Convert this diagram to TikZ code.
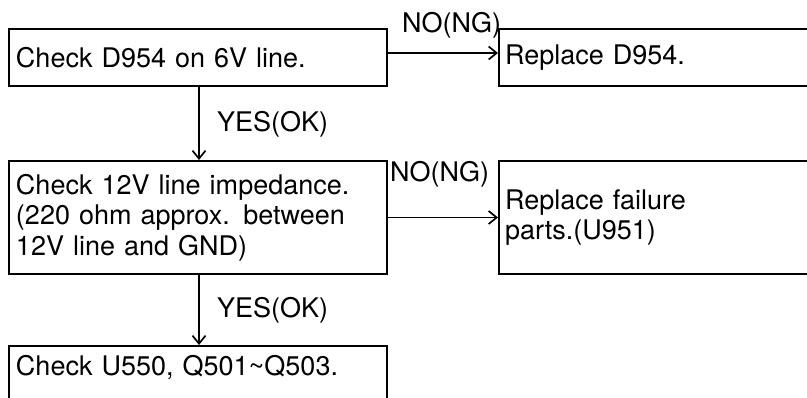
\documentclass[tikz,border=0pt]{standalone}
\usepackage{fontspec}
\setmainfont{TeX Gyre Heros}
\usetikzlibrary{arrows.meta}
\begin{document}
\begin{tikzpicture}[x=1pt,y=-1pt,
  box/.style={draw, line width=2pt, anchor=north west, inner xsep=7pt, inner ysep=0pt, align=left, font=\fontsize{27}{30.5}\selectfont},
  lbl/.style={anchor=base west, inner sep=0pt, font=\fontsize{27}{30.5}\selectfont},
  arr/.style={line width=1.7pt, -{Straight Barb[length=8pt,width=13pt,line width=1.7pt]}}]
\useasboundingbox (0,0) rectangle (807,398);
\clip (0,0) rectangle (807,398);
\node[box, text width=364pt, minimum height=57pt] (b1) at (8,28) {Check D954 on 6V line.};
\node[box, inner xsep=6pt, text width=320pt, minimum height=57pt] (b2) at (498,28) {Replace D954.};
\node[box, text width=364pt, minimum height=113pt] (b3) at (8,160) {Check 12V line impedance.\\(220 ohm approx. between\\12V line and GND)};
\node[box, inner xsep=6pt, text width=320pt, minimum height=113pt] (b4) at (498,160) {Replace failure\\parts.(U951)};
\node[box, text width=364pt, inner ysep=9pt, text height=21pt, text depth=55pt] (b5) at (8,345) {Check U550, Q501\textasciitilde Q503.};
\coordinate (y1) at (0,53);
\coordinate (xv) at (199,0);
\draw[arr] (b1.east |- y1) -- (b2.west |- y1);
\draw[arr] (b3.east) -- (b4.west);
\draw[arr] (b1.south -| xv) -- (b3.north -| xv);
\draw[arr] (b3.south -| xv) -- (b5.north -| xv);
\node[lbl] (n1) at (402,33) {NO(NG)};
\node[lbl] (n2) at (390,182) {NO(NG)};
\node[lbl] (y1l) at (217,132) {YES(OK)};
\node[lbl] (y2l) at (217,318) {YES(OK)};
\end{tikzpicture}
\end{document}
